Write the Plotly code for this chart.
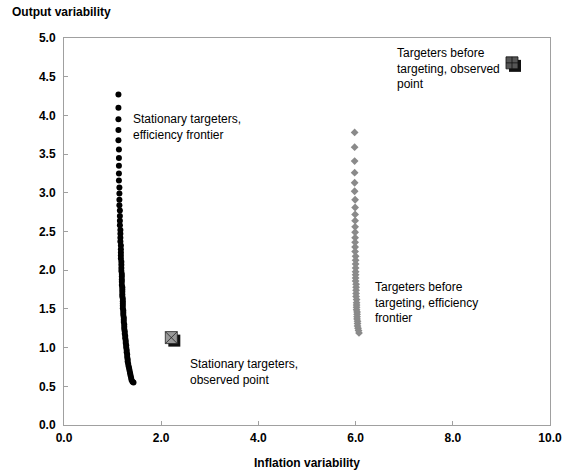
import plotly.graph_objects as go

# Stationary targeters, efficiency frontier
stat_front_y = [4.27, 4.10, 3.95, 3.81, 3.68, 3.56, 3.45, 3.35, 3.25, 3.16, 3.07, 2.99, 2.91, 2.84,
                2.77, 2.70, 2.64, 2.58, 2.52, 2.47, 2.42, 2.37, 2.32, 2.27, 2.23, 2.19, 2.15, 2.11,
                2.07, 2.03, 1.99, 1.95, 1.92, 1.88, 1.85, 1.81, 1.78, 1.75, 1.72, 1.69, 1.66, 1.63,
                1.60, 1.57, 1.54, 1.51, 1.48, 1.45, 1.42, 1.39, 1.36, 1.33, 1.30, 1.27, 1.24, 1.21,
                1.18, 1.15, 1.12, 1.09, 1.06, 1.03, 1.00, 0.97, 0.94, 0.91, 0.88, 0.85, 0.82, 0.79,
                0.76, 0.73, 0.70, 0.67, 0.64, 0.61, 0.58, 0.56, 0.55]
stat_front_x = [1.12, 1.12, 1.12, 1.12, 1.12, 1.13, 1.13, 1.13, 1.13, 1.13, 1.14, 1.14, 1.14, 1.14,
                1.15, 1.15, 1.15, 1.15, 1.16, 1.16, 1.16, 1.16, 1.17, 1.17, 1.17, 1.17, 1.17, 1.18,
                1.18, 1.18, 1.18, 1.19, 1.19, 1.19, 1.19, 1.19, 1.20, 1.20, 1.20, 1.20, 1.20, 1.21,
                1.21, 1.21, 1.21, 1.21, 1.22, 1.22, 1.22, 1.23, 1.23, 1.23, 1.24, 1.24, 1.24, 1.25,
                1.25, 1.26, 1.26, 1.27, 1.27, 1.28, 1.28, 1.29, 1.29, 1.30, 1.30, 1.31, 1.31, 1.32,
                1.33, 1.34, 1.35, 1.36, 1.37, 1.38, 1.39, 1.41, 1.43]

# Targeters before targeting, efficiency frontier
pre_front_y = [3.78, 3.59, 3.41, 3.26, 3.13, 3.02, 2.91, 2.81, 2.72, 2.64, 2.56, 2.49, 2.42, 2.36,
               2.30, 2.24, 2.18, 2.13, 2.08, 2.03, 1.98, 1.94, 1.90, 1.86, 1.82, 1.78, 1.74, 1.70,
               1.66, 1.62, 1.58, 1.55, 1.52, 1.49, 1.46, 1.43, 1.40, 1.37, 1.34, 1.31, 1.28, 1.25,
               1.22, 1.19]
pre_front_x = [5.98, 5.98, 5.98, 5.98, 5.98, 5.98, 5.99, 5.99, 5.99, 5.99, 5.99, 5.99, 5.99, 5.99,
               5.99, 5.99, 6.00, 6.00, 6.00, 6.00, 6.00, 6.00, 6.00, 6.00, 6.01, 6.01, 6.01, 6.01,
               6.01, 6.02, 6.02, 6.02, 6.02, 6.02, 6.03, 6.03, 6.03, 6.03, 6.04, 6.04, 6.04, 6.05,
               6.06, 6.07]

# Observed points
stat_obs_x = [2.27]
stat_obs_y = [1.09]
pre_obs_x = [9.28]
pre_obs_y = [4.64]

x_ticks = [0, 2, 4, 6, 8, 10]
x_tick_labels = ["0.0", "2.0", "4.0", "6.0", "8.0", "10.0"]
y_ticks = [0, 0.5, 1, 1.5, 2, 2.5, 3, 3.5, 4, 4.5, 5]
y_tick_labels = ["0.0", "0.5", "1.0", "1.5", "2.0", "2.5", "3.0", "3.5", "4.0", "4.5", "5.0"]

FONT = "Liberation Sans, Arial, sans-serif"

fig = go.Figure()

fig.add_trace(go.Scatter(x=stat_front_x, y=stat_front_y, mode="markers",
                         marker=dict(symbol="circle", size=6, color="#000000"),
                         showlegend=False, hoverinfo="skip"))
fig.add_trace(go.Scatter(x=pre_front_x, y=pre_front_y, mode="markers",
                         marker=dict(symbol="diamond", size=6, color="#8a8a8a"),
                         showlegend=False, hoverinfo="skip"))

# shadows on the main axes
fig.add_trace(go.Scatter(x=stat_obs_x + pre_obs_x, y=stat_obs_y + pre_obs_y, mode="markers",
                         marker=dict(symbol="square", size=12, color="#111111", line=dict(width=0)),
                         showlegend=False, hoverinfo="skip"))

# observed markers on overlay axes shifted a few pixels up-left (drawn above)
fig.add_trace(go.Scatter(x=stat_obs_x, y=stat_obs_y, mode="markers",
                         xaxis="x2", yaxis="y2",
                         marker=dict(symbol="square-x", size=12, color="#999999",
                                     line=dict(color="#222222", width=0.8)),
                         showlegend=False, hoverinfo="skip"))
fig.add_trace(go.Scatter(x=pre_obs_x, y=pre_obs_y, mode="markers",
                         xaxis="x2", yaxis="y2",
                         marker=dict(symbol="square-cross", size=12, color="#555555",
                                     line=dict(color="#111111", width=0.8)),
                         showlegend=False, hoverinfo="skip"))

ann_font = dict(family=FONT, size=12, color="#000000")
annotations = [
    dict(x=1.38, y=3.85, text="Stationary targeters,<br>efficiency frontier"),
    dict(x=6.36, y=1.58, text="Targeters before<br>targeting, efficiency<br>frontier"),
    dict(x=2.56, y=0.68, text="Stationary targeters,<br>observed point"),
    dict(x=6.82, y=4.60, text="Targeters before<br>targeting, observed<br>point"),
]
for a in annotations:
    fig.add_annotation(x=a["x"], y=a["y"], text=a["text"], showarrow=False,
                       xanchor="left", yanchor="middle", align="left", font=ann_font)

fig.add_annotation(x=0, y=1, xref="paper", yref="paper", xshift=-54, yshift=26,
                   text="<b>Output variability</b>", showarrow=False,
                   xanchor="left", yanchor="middle", font=dict(family=FONT, size=12, color="#000"))

axis_common = dict(showgrid=False, zeroline=False, showline=True, linecolor="#a0a0a0",
                   linewidth=1, mirror=True, ticks="inside", ticklen=4, tickcolor="#a0a0a0",
                   automargin=False,
                   tickfont=dict(family=FONT, size=12, color="#000"))

fig.update_layout(
    width=566, height=472,
    margin=dict(l=64, r=16, t=38, b=47),
    paper_bgcolor="white", plot_bgcolor="white",
    xaxis=dict(range=[0, 10], tickvals=x_ticks, ticktext=["<b>%s</b>" % t for t in x_tick_labels],
               title=dict(text="<b>Inflation variability</b>", font=dict(family=FONT, size=12, color="#000"),
                          standoff=14),
               ticklabelstandoff=2,
               **axis_common),
    yaxis=dict(range=[0, 5], tickvals=y_ticks, ticktext=["<b>%s</b>" % t for t in y_tick_labels],
               ticklabelstandoff=5,
               **axis_common),
    xaxis2=dict(range=[0.062, 10.062], overlaying="x", visible=False),
    yaxis2=dict(range=[-0.039, 4.961], overlaying="y", visible=False),
)

fig.write_html("out.html")
